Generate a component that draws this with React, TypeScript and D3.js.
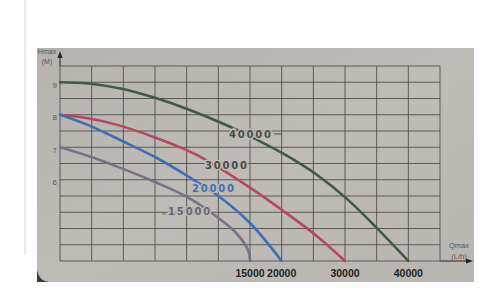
import React from "react";
import * as d3 from "d3";

// ---- data (flow in L/h, head in m) ----
const headTicks = [6, 7, 8, 9];
const flowLabels = [15000, 20000, 30000, 40000];

const q40000 = [-15000, -10530, -5260, 0, 5200, 11500, 16000, 20200, 25500, 30260, 35000, 40000];
const h40000 = [9.0, 8.96, 8.8, 8.52, 8.17, 7.66, 7.24, 6.81, 6.16, 5.42, 4.52, 3.5];

const q30000 = [-15000, -10530, -5260, 0, 5260, 7900, 15000, 20260, 25530, 30000];
const h30000 = [8.0, 7.89, 7.65, 7.3, 6.89, 6.63, 5.76, 5.04, 4.27, 3.5];

const q20000 = [-15000, -10530, -5260, 0, 5260, 10000, 15000, 20000];
const h20000 = [8.0, 7.68, 7.2, 6.7, 6.1, 5.5, 4.67, 3.5];

const q15000 = [-15000, -10530, -5260, 0, 5260, 9470, 12630, 14730, 15000];
const h15000 = [7.0, 6.73, 6.35, 5.93, 5.45, 4.9, 4.4, 3.82, 3.5];

const seriesNames = ["40000", "30000", "20000", "15000"];
const seriesColors = ["#3f5a47", "#b8475c", "#3f6fb2", "#7b7089"];
const labelColors = ["#4a4d4a", "#4a4c4a", "#3f6fb2", "#6c6672"];
// label anchor (flow, head) for each curve label
const labelQ = [15150, 11360, 9300, 5530];
const labelH = [7.41, 6.45, 5.75, 5.04];

const W = 500;
const H = 298;
const PAPER = "#bcb9b4";
const GRID = "#524e4a";

export default function App() {
  const x = d3.scaleLinear().domain([-15000, 45000]).range([60, 440]);
  const y = d3.scaleLinear().domain([3.5, 9.5]).range([261, 66]);

  const gridQ = d3.range(-15000, 45001, 5000);
  const gridH = d3.range(3.5, 9.51, 0.5);

  const line = d3
    .line<[number, number]>()
    .x((d) => x(d[0]))
    .y((d) => y(d[1]))
    .curve(d3.curveCatmullRom.alpha(0.5));

  const qs = [q40000, q30000, q20000, q15000];
  const hs = [h40000, h30000, h20000, h15000];

  const x0 = x(-15000);
  const x1 = x(45000);
  const yb = y(3.5);
  const yt = y(9.5);

  return (
    <svg
      width={W}
      height={H}
      style={{ position: "absolute", left: 0, top: 0, background: "#fff" }}
      fontFamily="'Liberation Sans', Arial, sans-serif"
    >
      <defs>
        <linearGradient id="paperShade" x1="0" y1="0" x2="1" y2="1">
          <stop offset="0" stopColor="#b6b3ae" />
          <stop offset="0.5" stopColor="#bfbcb7" />
          <stop offset="1" stopColor="#b9b6b1" />
        </linearGradient>
      </defs>
      <rect x={0} y={0} width={W} height={H} fill="#ffffff" />
      <line x1={25} y1={0} x2={25} y2={255} stroke="#d8d8d8" strokeWidth={1} />
      <rect x={37} y={48} width={437} height={234} fill="url(#paperShade)" />
      <path d="M37,270 Q39,281 49,282 L37,282 Z" fill="#3a3838" />

      {/* grid */}
      {gridH.map((h) => (
        <line key={"h" + h} x1={x0} x2={x1} y1={y(h)} y2={y(h)} stroke={GRID} strokeWidth={0.9} />
      ))}
      {gridQ.map((q) => (
        <line key={"v" + q} x1={x(q)} x2={x(q)} y1={yt} y2={yb} stroke={GRID} strokeWidth={0.9} />
      ))}

      {/* axes arrows */}
      <line x1={x0} x2={x0} y1={yt} y2={56} stroke="#222" strokeWidth={1} />
      <path d={`M${x0 - 2.5},${58} L${x0},${51} L${x0 + 2.5},${58} Z`} fill="#222" />
      <line x1={x1} x2={468} y1={yb} y2={yb} stroke="#222" strokeWidth={1} />
      <path d={`M${466},${yb - 2.5} L${473},${yb} L${466},${yb + 2.5} Z`} fill="#222" />

      <text x={47} y={54} fontSize={7} fill="#555" textAnchor="middle">Hmax</text>
      <text x={47} y={64} fontSize={7} fill="#555" textAnchor="middle">(M)</text>
      <text x={459} y={248} fontSize={7.5} fill="#555" textAnchor="middle">Qmax</text>
      <text x={459} y={259} fontSize={7.5} fill="#555" textAnchor="middle">(L/h)</text>

      {/* y ticks */}
      {headTicks.map((h) => (
        <text key={"yt" + h} x={57} y={y(h) + 5.5} fontSize={8} fill="#555" textAnchor="end">
          {h}
        </text>
      ))}

      {/* curves */}
      {qs.map((qa, i) => (
        <path
          key={"c" + i}
          d={line(qa.map((q, j) => [q, hs[i][j]] as [number, number])) || ""}
          fill="none"
          stroke={seriesColors[i]}
          strokeWidth={2.6}
          strokeLinecap="round"
        />
      ))}

      {/* curve labels */}
      {seriesNames.map((n, i) => (
        <text
          key={"l" + n}
          x={x(labelQ[i])}
          y={y(labelH[i]) + 4}
          textAnchor="middle"
          fontFamily="'DejaVu Sans', sans-serif"
          fontWeight="bold"
          fontSize={10}
          letterSpacing={1.8}
          fill={labelColors[i]}
          stroke={PAPER}
          strokeWidth={3}
          paintOrder="stroke"
        >
          {n}
        </text>
      ))}
      {/* leader dashes */}
      <line x1={x(labelQ[0]) + 23} x2={x(labelQ[0]) + 30} y1={y(labelH[0])} y2={y(labelH[0])} stroke={labelColors[0]} strokeWidth={1} />
      <line x1={x(labelQ[3]) - 28} x2={x(labelQ[3]) - 24} y1={y(labelH[3]) + 3} y2={y(labelH[3]) + 3} stroke={labelColors[3]} strokeWidth={1} />

      {/* flow labels */}
      {flowLabels.map((q) => (
        <text
          key={"fl" + q}
          x={x(q)}
          y={277}
          textAnchor="middle"
          fontWeight="bold"
          fontSize={10.5}
          fill="#1e1e1e"
        >
          {q}
        </text>
      ))}
    </svg>
  );
}
